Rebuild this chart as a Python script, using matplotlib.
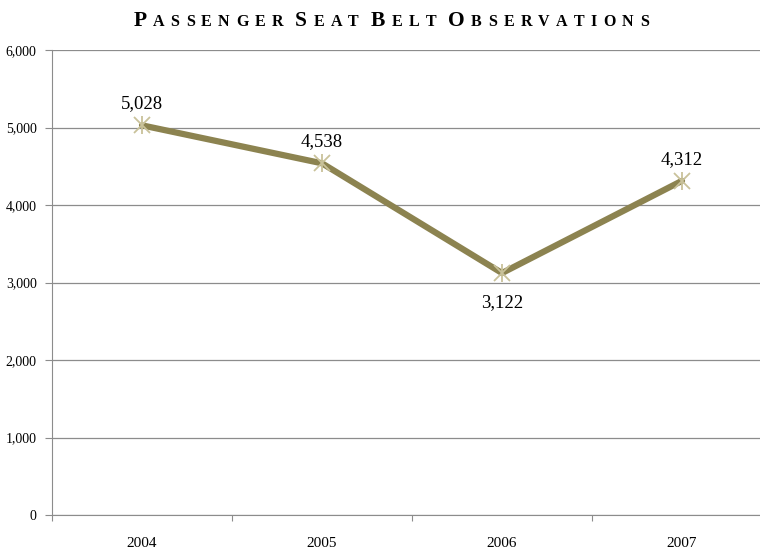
import numpy as np
import matplotlib.pyplot as plt
from matplotlib.ticker import FuncFormatter

years = ["2004", "2005", "2006", "2007"]
observations = [5028, 4538, 3122, 4312]
label_below = [False, False, True, False]

title_words = ["Passenger", "Seat", "Belt", "Observations"]

W, H = 760, 553
fig = plt.figure(figsize=(W / 100, H / 100), dpi=100)
plt.rcParams['font.family'] = ['Liberation Serif', 'DejaVu Serif']

# plot area runs off the right edge of the figure
ax = fig.add_axes([52 / W, (H - 515) / H, 720 / W, 465 / H])
x = np.arange(len(years))

ax.set_xlim(-0.5, len(years) - 0.5)
ax.set_ylim(0, 6000)
ax.set_yticks(np.arange(0, 6001, 1000))
ax.yaxis.set_major_formatter(FuncFormatter(lambda v, p: f"{int(v):,}"))
ax.grid(axis='y', color='#8c8c8c', linewidth=0.9)
ax.set_axisbelow(True)

ax.set_xticks(np.arange(-0.5, len(years), 1.0))
ax.set_xticklabels([])
ax.set_xticks(x, minor=True)
ax.set_xticklabels(years, minor=True, fontsize=11)
ax.tick_params(axis='x', which='minor', length=0, pad=16)
ax.tick_params(axis='x', which='major', length=4, color='#8c8c8c')
ax.tick_params(axis='y', length=5, color='#8c8c8c', labelsize=10, pad=6)

for side in ['top', 'right']:
    ax.spines[side].set_visible(False)
for side in ['left', 'bottom']:
    ax.spines[side].set_color('#8c8c8c')

ax.plot(x, observations, color='#8c8350', linewidth=4.5, solid_capstyle='round', zorder=3)
# star marker: an x with a short vertical stroke
ax.plot(x, observations, linestyle='none', marker='x', markersize=12,
        markeredgecolor='#c9c29a', markeredgewidth=1.3, zorder=4)
ax.plot(x, observations, linestyle='none', marker='|', markersize=13,
        markeredgecolor='#c9c29a', markeredgewidth=1.3, zorder=4)

for xi, v, below in zip(x, observations, label_below):
    ax.annotate(f"{v:,}", (xi, v), xytext=(0, -21 if below else 15.5),
                textcoords='offset points', ha='center', va='center', fontsize=13.5)

# small-caps title built letter by letter
fig.canvas.draw()
renderer = fig.canvas.get_renderer()
pieces = []
for w in title_words:
    word = []
    for i, ch in enumerate(w.upper()):
        word.append((ch, 15.5 if i == 0 else 11.5))
    pieces.append(word)

track = 6.3
space = 12
def measure(ch, size):
    t = fig.text(0, 0, ch, fontsize=size, fontweight='bold')
    bb = t.get_window_extent(renderer)
    t.remove()
    return bb.width

total = 0
widths = []
for word in pieces:
    ww = [measure(ch, s) for ch, s in word]
    widths.append(ww)
    total += sum(ww) + track * (len(ww) - 1)
total += space * (len(pieces) - 1)

cx = 391
px = cx - total / 2
y_base = H - 26
for word, ww in zip(pieces, widths):
    for (ch, s), wd in zip(word, ww):
        fig.text(px / W, y_base / H, ch, fontsize=s, fontweight='bold', va='baseline', ha='left')
        px += wd + track
    px += space - track

fig.savefig('out.png', dpi=100)
